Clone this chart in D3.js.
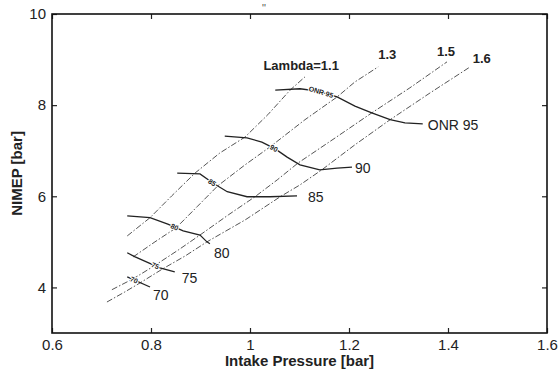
<!DOCTYPE html>
<html><head><meta charset="utf-8">
<script src="https://cdn.jsdelivr.net/npm/d3@7/dist/d3.min.js"></script>
<style>
html,body{margin:0;padding:0;background:#fff;}
text{font-family:"Liberation Sans",Arial,sans-serif;}
</style></head>
<body><svg id="chart" width="559" height="372"></svg>
<script>
// ---------- data ----------
const xTicks = [0.6, 0.8, 1.0, 1.2, 1.4, 1.6];
const xTickLabels = ["0.6", "0.8", "1", "1.2", "1.4", "1.6"];
const yTicks = [4, 6, 8, 10];
const yTickLabels = ["4", "6", "8", "10"];
const xTitle = "Intake Pressure [bar]";
const yTitle = "NIMEP [bar]";

// lambda lines (intake pressure, NIMEP)
const lambdaNames = ["Lambda=1.1", "1.3", "1.5", "1.6"];
const lambda11 = [[0.752,5.13],[0.798,5.53],[0.842,6.01],[0.889,6.51],[0.939,6.95],[0.990,7.30],[1.036,7.79],[1.081,8.33],[1.111,8.62]];
const lambda13 = [[0.764,4.67],[0.808,5.00],[0.851,5.31],[0.893,5.77],[0.935,6.23],[0.990,6.69],[1.040,7.08],[1.111,7.68],[1.176,8.18],[1.212,8.51],[1.259,8.84]];
const lambda15 = [[0.721,3.95],[0.764,4.19],[0.806,4.47],[0.855,4.82],[0.899,5.15],[0.956,5.59],[1.010,5.99],[1.055,6.36],[1.097,6.73],[1.172,7.28],[1.246,7.83],[1.323,8.38],[1.398,8.95]];
const lambda16 = [[0.711,3.68],[0.747,3.90],[0.778,4.10],[0.824,4.41],[0.869,4.69],[0.913,5.00],[0.990,5.48],[1.061,5.99],[1.101,6.25],[1.145,6.58],[1.212,7.13],[1.283,7.68],[1.364,8.27],[1.442,8.82]];

// ONR iso-lines
const onrNames = ["ONR 95", "90", "85", "80", "75", "70"];
const onrSmall = ["ONR 95", "90", "85", "80", "75", "70"];
const onr95 = [[1.051,8.33],[1.101,8.36],[1.137,8.31],[1.176,8.18],[1.212,7.98],[1.246,7.83],[1.283,7.68],[1.313,7.61],[1.349,7.59]];
const onr90 = [[0.949,7.32],[0.994,7.28],[1.024,7.19],[1.051,7.04],[1.075,6.86],[1.101,6.69],[1.141,6.58],[1.176,6.62],[1.206,6.64]];
const onr85 = [[0.853,6.51],[0.899,6.49],[0.925,6.29],[0.954,6.10],[0.994,5.99],[1.040,5.99],[1.095,6.01]];
const onr80 = [[0.752,5.57],[0.798,5.53],[0.834,5.39],[0.865,5.24],[0.899,5.15],[0.913,5.00],[0.919,4.96]];
const onr75 = [[0.752,4.76],[0.768,4.67],[0.818,4.43],[0.848,4.34]];
const onr70 = [[0.752,4.23],[0.798,4.01]];

// ---------- layout ----------
const W = 559, H = 372;
const m = {left: 52, top: 14, right: 12, bottom: 39};
const svg = d3.select("#chart");
const x = d3.scaleLinear().domain([0.6, 1.6]).range([m.left, W - m.right]);
const y = d3.scaleLinear().domain([3, 10]).range([H - m.bottom, m.top]);
const line = d3.line().x(d => x(d[0])).y(d => y(d[1]));

const lambdaSeries = [lambda11, lambda13, lambda15, lambda16];
const lambdaLabelOff = [[34, -7, "end"], [0, -8, "start"], [-10, -6, "start"], [4, -5, "start"]];
const onrSeries = [onr95, onr90, onr85, onr80, onr75, onr70];
const onrLabelOff = [[5, 6, 0], [3, 6, 0], [11, 6, 0], [4, 14, 0], [7, 11, 0], [3, 13, 0]];
const onrSmallFrac = [0.3, 0.38, 0.3, 0.55, 0.6, 0.3];

// axes
const axisFont = "15px";
const gx = svg.append("g").attr("transform", `translate(0,${H - m.bottom})`)
  .call(d3.axisBottom(x).tickValues(xTicks).tickFormat((d, i) => xTickLabels[i]).tickSizeInner(-5).tickSizeOuter(0).tickPadding(6));
const gy = svg.append("g").attr("transform", `translate(${m.left},0)`)
  .call(d3.axisLeft(y).tickValues(yTicks).tickFormat((d, i) => yTickLabels[i]).tickSizeInner(-5).tickSizeOuter(0).tickPadding(6));
const gt = svg.append("g").attr("transform", `translate(0,${m.top})`)
  .call(d3.axisTop(x).tickValues(xTicks).tickFormat("").tickSizeInner(-5).tickSizeOuter(0));
const gr = svg.append("g").attr("transform", `translate(${W - m.right},0)`)
  .call(d3.axisRight(y).tickValues(yTicks).tickFormat("").tickSizeInner(-5).tickSizeOuter(0));
[gx, gy, gt, gr].forEach(g => {
  g.select(".domain").remove();
  g.selectAll("line").attr("stroke", "#222").attr("stroke-width", 1.2);
  g.selectAll("text").attr("fill", "#222").style("font-size", axisFont).style("font-family", "Liberation Sans, Arial, sans-serif");
});
svg.append("rect").attr("x", m.left).attr("y", m.top)
  .attr("width", W - m.left - m.right).attr("height", H - m.top - m.bottom)
  .attr("fill", "none").attr("stroke", "#111").attr("stroke-width", 1.6);

// lambda lines
lambdaSeries.forEach((s, i) => {
  svg.append("path").attr("d", line(s)).attr("fill", "none")
    .attr("stroke", "#555").attr("stroke-width", 1).attr("stroke-dasharray", "6,2,1.5,2");
  const last = s[s.length - 1];
  svg.append("text").attr("x", x(last[0]) + lambdaLabelOff[i][0]).attr("y", y(last[1]) + lambdaLabelOff[i][1])
    .attr("text-anchor", lambdaLabelOff[i][2]).style("font-size", "13px").style("font-weight", "bold")
    .attr("fill", "#222").text(lambdaNames[i]);
});

// ONR lines
onrSeries.forEach((s, i) => {
  const p = svg.append("path").attr("d", line(s)).attr("fill", "none")
    .attr("stroke", "#222").attr("stroke-width", 1.3);
  const last = s[s.length - 1];
  svg.append("text").attr("x", x(last[0]) + onrLabelOff[i][0]).attr("y", y(last[1]) + onrLabelOff[i][1])
    .style("font-size", "14px").attr("fill", "#222").text(onrNames[i]);
  // inline contour label
  const node = p.node();
  const L = node.getTotalLength();
  const pt = node.getPointAtLength(L * onrSmallFrac[i]);
  const pt2 = node.getPointAtLength(Math.min(L, L * onrSmallFrac[i] + 2));
  const pt1 = node.getPointAtLength(Math.max(0, L * onrSmallFrac[i] - 2));
  const ang = Math.atan2(pt2.y - pt1.y, pt2.x - pt1.x) * 180 / Math.PI;
  svg.append("text").attr("transform", `translate(${pt.x},${pt.y}) rotate(${ang})`)
    .attr("text-anchor", "middle").attr("dy", "0.35em")
    .style("font-size", "7px").style("font-weight", "bold")
    .attr("fill", "#222").attr("stroke", "#fff").attr("stroke-width", 2).attr("paint-order", "stroke")
    .text(onrSmall[i]);
});

// titles
svg.append("text").attr("x", (m.left + W - m.right) / 2).attr("y", H - 6)
  .attr("text-anchor", "middle").style("font-size", "15px").style("font-weight", "bold").attr("fill", "#222").text(xTitle);
svg.append("text").attr("transform", `translate(22,${(m.top + H - m.bottom) / 2}) rotate(-90)`)
  .attr("text-anchor", "middle").style("font-size", "15px").style("font-weight", "bold").attr("fill", "#222").text(yTitle);
svg.append("text").attr("x", 264).attr("y", 12).attr("text-anchor", "middle")
  .style("font-size", "10px").attr("fill", "#444").text("''");
</script></body></html>
